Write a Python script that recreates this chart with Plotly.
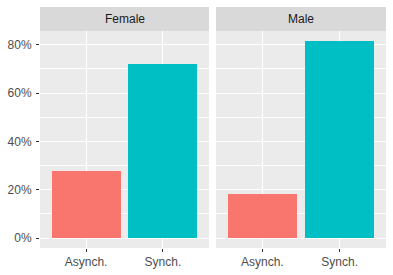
import plotly.graph_objects as go

facets = ["Female", "Male"]
categories = ["Asynch.", "Synch."]
female_pct = [27.8, 72.2]
male_pct = [18.4, 81.6]
bar_colors = ["#F8766D", "#00BFC4"]
y_ticks = [0, 20, 40, 60, 80]
y_ticktext = ["0%", "20%", "40%", "60%", "80%"]

W, H = 393, 275
ml, mr, mt, mb = 40, 7, 7, 27
pw = W - ml - mr
ph = H - mt - mb
left_end = 169 / pw
right_start = 176 / pw
ytop = (248 - 31) / ph

fig = go.Figure()
series = [female_pct, male_pct]
for i, vals in enumerate(series):
    fig.add_trace(go.Bar(
        x=categories, y=vals, width=0.9,
        marker=dict(color=bar_colors, line=dict(width=0)),
        xaxis="x" if i == 0 else "x2", yaxis="y" if i == 0 else "y2",
        showlegend=False, hoverinfo="x+y",
    ))

font = "Liberation Sans, Arial, sans-serif"
axcommon = dict(showline=False, zeroline=False, gridcolor="white", gridwidth=1.1,
                ticks="outside", ticklen=3, tickcolor="#333333", tickwidth=1,
                automargin=False,
                tickfont=dict(family=font, size=12, color="#4D4D4D"))
xcommon = dict(axcommon, type="category", range=[-0.6, 1.6], showgrid=True)
ycommon = dict(axcommon, range=[-4.08, 85.68], tickvals=y_ticks, ticktext=y_ticktext,
               showgrid=True, ticklabelstandoff=2,
               minor=dict(tickvals=[10, 30, 50, 70], showgrid=True, gridcolor="white",
                          gridwidth=0.5, ticks=""))

fig.update_layout(
    width=W, height=H,
    margin=dict(l=ml, r=mr, t=mt, b=mb, pad=0, autoexpand=False),
    paper_bgcolor="white", plot_bgcolor="#EBEBEB",
    xaxis=dict(xcommon, domain=[0, left_end], anchor="y"),
    xaxis2=dict(xcommon, domain=[right_start, 1], anchor="y2"),
    yaxis=dict(ycommon, domain=[0, ytop], anchor="x"),
    yaxis2=dict(ycommon, domain=[0, ytop], anchor="x2", showticklabels=False, ticks=""),
    bargap=0,
)

for i, (x0, x1) in enumerate([(0, left_end), (right_start, 1)]):
    fig.add_shape(type="rect", xref="paper", yref="paper", x0=x0, x1=x1, y0=ytop, y1=1,
                  fillcolor="#D9D9D9", line=dict(width=0), layer="below")
    fig.add_annotation(text=facets[i], xref="paper", yref="paper", x=(x0 + x1) / 2,
                       y=(ytop + 1) / 2, showarrow=False, xanchor="center", yanchor="middle",
                       font=dict(family=font, size=12, color="#1A1A1A"))

fig.write_html("out.html", config={"displayModeBar": False},
               post_script="document.body.style.margin='0px';")
